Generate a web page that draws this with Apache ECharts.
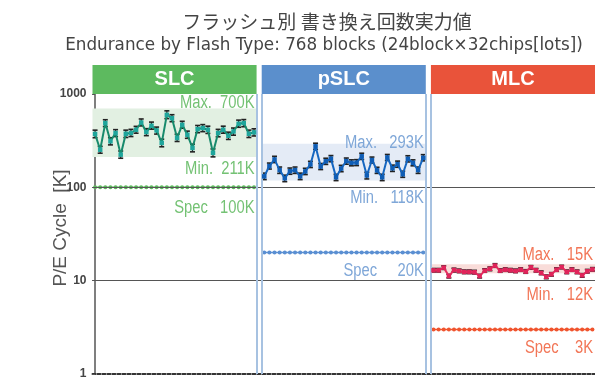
<!DOCTYPE html>
<html>
<head>
<meta charset="utf-8">
<script src="https://cdn.jsdelivr.net/npm/echarts@6/dist/echarts.min.js"></script>
<style>
  html, body { margin: 0; padding: 0; background: #fff; }
  #chart { width: 595px; height: 380px; }
</style>
</head>
<body>
<div id="chart"></div>
<script>
// Endurance (P/E cycles, in K) per flash type: mean of each chip lot with min/max whiskers
const flashTypes = ['SLC', 'pSLC', 'MLC'];

const slcMean = [373, 253, 488, 311, 382, 224, 375, 382, 414, 495, 391, 457, 407, 299, 598, 551,
                 338, 468, 366, 264, 421, 432, 414, 234, 382, 414, 357, 397, 480, 488, 375, 388];
const slcLow  = [340, 232, 448, 285, 350, 205, 342, 350, 380, 455, 358, 420, 372, 272, 545, 505,
                 310, 430, 335, 240, 385, 395, 378, 212, 348, 380, 326, 362, 440, 446, 342, 355];
const slcHigh = [410, 275, 530, 340, 415, 245, 410, 418, 450, 540, 425, 500, 442, 328, 660, 600,
                 370, 510, 400, 290, 460, 470, 452, 258, 418, 452, 390, 432, 525, 532, 410, 424];

const pslcMean = [131, 169, 199, 153, 125, 149, 153, 131, 148, 176, 275, 167, 190, 203, 128, 159,
                  191, 183, 184, 215, 134, 196, 152, 128, 209, 160, 177, 138, 202, 183, 153, 207];
const pslcLow  = [121, 157, 184, 141, 115, 138, 141, 121, 137, 163, 255, 155, 176, 188, 118, 147,
                  177, 170, 171, 199, 123, 182, 141, 118, 194, 148, 164, 128, 187, 170, 141, 192];
const pslcHigh = [142, 182, 215, 165, 135, 161, 165, 142, 160, 190, 297, 180, 205, 219, 138, 172,
                  206, 197, 198, 232, 145, 211, 164, 138, 225, 173, 191, 149, 218, 197, 165, 224];

const mlcMean = [12.9, 12.9, 13.8, 11.2, 13.0, 12.7, 12.4, 12.4, 12.3, 11.2, 12.8, 13.4, 14.5, 12.8, 13.1, 12.9,
                 12.7, 13.1, 12.5, 13.9, 12.9, 12.1, 11.0, 11.7, 13.1, 14.0, 12.4, 13.1, 12.4, 11.4, 12.6, 13.2];
const mlcLow  = [12.4, 12.4, 13.2, 10.7, 12.4, 12.2, 11.9, 11.9, 11.8, 10.7, 12.3, 12.8, 13.9, 12.3, 12.6, 12.4,
                 12.2, 12.6, 12.0, 13.3, 12.4, 11.6, 10.5, 11.2, 12.6, 13.4, 11.9, 12.6, 11.9, 10.9, 12.1, 12.7];
const mlcHigh = [13.5, 13.5, 14.4, 11.7, 13.6, 13.3, 13.0, 13.0, 12.9, 11.7, 13.4, 14.0, 15.2, 13.4, 13.7, 13.5,
                 13.3, 13.7, 13.1, 14.5, 13.5, 12.7, 11.5, 12.2, 13.7, 14.6, 13.0, 13.7, 13.0, 11.9, 13.2, 13.8];

const bandMin = [211, 118, 12];     // observed minimum (K)
const bandMax = [700, 293, 15];     // observed maximum (K)
const specValues = [100, 20, 3];    // datasheet endurance (K)

const maxLabels  = ['Max.  700K', 'Max.   293K', 'Max.   15K'];
const minLabels  = ['Min.  211K', 'Min.   118K', 'Min.   12K'];
const specLabels = ['Spec   100K', 'Spec     20K', 'Spec    3K'];

const yTicks = [1, 10, 100, 1000];

const titleText = 'フラッシュ別 書き換え回数実力値';
const subtitleText = 'Endurance by Flash Type: 768 blocks (24block×32chips[lots])';

// ---- styling ----
const palette = {
  header: ['#5dba5f', '#5b8fcc', '#e9533a'],
  band:   ['#e2f0e2', '#e4ebf6', '#f9dcd9'],
  line:   ['#178a6c', '#1566c0', '#e52d5f'],
  marker: ['#1fa59c', '#0f5db5', '#e0245a'],
  spec:   ['#5cb85c', '#5a8fd2', '#f0542e'],
  label:  ['#74c274', '#7fa7d8', '#f27657']
};
// vertical offsets of the annotation text from its value
const labelShift = {
  max:  [-5, -1, -9],
  min:  [12, 17, 22],
  spec: [21, 18, 19]
};

const means = [slcMean, pslcMean, mlcMean];
const lows = [slcLow, pslcLow, mlcLow];
const highs = [slcHigh, pslcHigh, mlcHigh];

const BLOCKS = 32;
const STRIDE = BLOCKS + 1;            // one empty slot between flash types
const xOf = (t, i) => t * STRIDE + i;
const panelStart = t => xOf(t, 0) - 0.5;
const panelEnd = t => xOf(t, BLOCKS - 1) + 0.5;

const series = [];

// gridlines at 100 and 10, and the double separators between panels
const sep = { color: '#a7c2e1', width: 2, type: 'solid' };
const grid = { color: '#555', width: 1, type: 'solid' };
series.push({
  type: 'line', data: [], z: 2, silent: true,
  markLine: {
    silent: true, symbol: ['none', 'none'], label: { show: false },
    animation: false,
    data: [
      { yAxis: 100, lineStyle: grid },
      { yAxis: 10, lineStyle: grid },
      { xAxis: panelEnd(0), lineStyle: sep },
      { xAxis: panelStart(1), lineStyle: sep },
      { xAxis: panelEnd(1), lineStyle: sep },
      { xAxis: panelStart(2), lineStyle: sep }
    ]
  }
});

flashTypes.forEach((name, t) => {
  // min..max band
  series.push({
    name: name + ' range', type: 'line', data: [], z: 1, silent: true,
    markArea: {
      silent: true, animation: false,
      itemStyle: { color: palette.band[t] },
      data: [[{ xAxis: panelStart(t), yAxis: bandMin[t] }, { xAxis: panelEnd(t), yAxis: bandMax[t] }]]
    }
  });

  // spec line
  series.push({
    name: name + ' spec', type: 'line', z: 3, silent: true, animation: false,
    data: means[t].map((_, i) => [xOf(t, i), specValues[t]]),
    symbol: 'circle', symbolSize: 4,
    lineStyle: { color: palette.spec[t], width: 1.5 },
    itemStyle: { color: palette.spec[t] }
  });

  // whiskers
  series.push({
    name: name + ' spread', type: 'custom', z: 4, silent: true, animation: false,
    data: means[t].map((_, i) => [xOf(t, i), lows[t][i], highs[t][i]]),
    renderItem: (params, api) => {
      const lo = api.coord([api.value(0), api.value(1)]);
      const hi = api.coord([api.value(0), api.value(2)]);
      const w = 2.5;
      const cap = { stroke: '#222', lineWidth: 1.6 };
      return {
        type: 'group',
        children: [
          { type: 'line', shape: { x1: lo[0], y1: lo[1], x2: hi[0], y2: hi[1] }, style: { stroke: '#222', lineWidth: 1.2 } },
          { type: 'line', shape: { x1: lo[0] - w, y1: lo[1], x2: lo[0] + w, y2: lo[1] }, style: cap },
          { type: 'line', shape: { x1: hi[0] - w, y1: hi[1], x2: hi[0] + w, y2: hi[1] }, style: cap }
        ]
      };
    }
  });

  // mean per lot
  series.push({
    name: name, type: 'line', z: 5, animation: false,
    data: means[t].map((v, i) => [xOf(t, i), v]),
    symbol: 'rect', symbolSize: 4.5,
    lineStyle: { color: palette.line[t], width: 2 },
    itemStyle: { color: palette.marker[t] }
  });
});

const chart = echarts.init(document.getElementById('chart'));
const GRID = { left: 92.5, top: 94, width: 512.5, height: 282 };

chart.setOption({
  animation: false,
  grid: GRID,
  xAxis: {
    type: 'value', min: -0.5, max: xOf(2, BLOCKS - 1) + 0.5,
    axisLine: { show: true, onZero: false, lineStyle: { color: '#333', width: 2, type: [3, 2] } },
    axisTick: { show: false }, axisLabel: { show: false }, splitLine: { show: false }
  },
  yAxis: {
    type: 'log', logBase: 10, min: yTicks[0], max: yTicks[yTicks.length - 1],
    name: 'P/E Cycle  [K]', nameLocation: 'middle', nameGap: 22, nameMoveOverlap: false,
    nameTextStyle: { color: '#555', fontSize: 19, fontFamily: 'Liberation Sans, Arial, sans-serif', padding: [0, 0, 0, 12] },
    axisLine: { show: true, lineStyle: { color: '#555', width: 1.5 } },
    axisTick: { show: true, length: 3, lineStyle: { color: '#555' } },
    axisLabel: {
      color: '#444', fontSize: 12, fontWeight: 'bold', margin: 6,
      fontFamily: 'Liberation Sans, Arial, sans-serif',
      formatter: v => (yTicks.indexOf(Math.round(v)) >= 0 ? String(Math.round(v)) : '')
    },
    splitLine: { show: false }
  },
  series: series
});

// title, header strips and condensed annotation text placed through the axes
const headerH = 29;
const graphics = [
  {
    type: 'text', silent: true, z: 100,
    style: {
      text: titleText, x: 327, y: 22,
      textAlign: 'center', textVerticalAlign: 'middle',
      fill: '#444', font: '19px "Noto Sans CJK JP", sans-serif'
    }
  },
  {
    type: 'text', silent: true, z: 100,
    style: {
      text: subtitleText, x: 324, y: 46,
      textAlign: 'center', textVerticalAlign: 'middle',
      fill: '#444', font: '16.8px "DejaVu Sans", sans-serif'
    }
  }
];
flashTypes.forEach((name, t) => {
  const x0 = chart.convertToPixel({ xAxisIndex: 0 }, panelStart(t));
  const x1 = chart.convertToPixel({ xAxisIndex: 0 }, panelEnd(t));
  graphics.push({
    type: 'rect', silent: true, z: 100,
    shape: { x: x0, y: GRID.top - headerH, width: x1 - x0, height: headerH },
    style: { fill: palette.header[t] }
  });
  graphics.push({
    type: 'text', silent: true, z: 101,
    style: {
      text: name, x: (x0 + x1) / 2, y: GRID.top - headerH / 2,
      textAlign: 'center', textVerticalAlign: 'middle',
      fill: '#fff', font: 'bold 20px "Liberation Sans", Arial, sans-serif'
    }
  });

  const notes = [
    [bandMax[t], maxLabels[t], labelShift.max[t]],
    [bandMin[t], minLabels[t], labelShift.min[t]],
    [specValues[t], specLabels[t], labelShift.spec[t]]
  ];
  notes.forEach(([value, text, dy]) => {
    const p = chart.convertToPixel({ gridIndex: 0 }, [panelEnd(t), value]);
    graphics.push({
      type: 'text', silent: true, z: 100,
      x: p[0] - 2, y: p[1] + dy, scaleX: 0.82,
      style: {
        text: text, x: 0, y: 0,
        textAlign: 'right', textVerticalAlign: 'middle',
        fill: palette.label[t], font: '18px "Liberation Sans", Arial, sans-serif'
      }
    });
  });
});
chart.setOption({ graphic: graphics });
</script>
</body>
</html>
